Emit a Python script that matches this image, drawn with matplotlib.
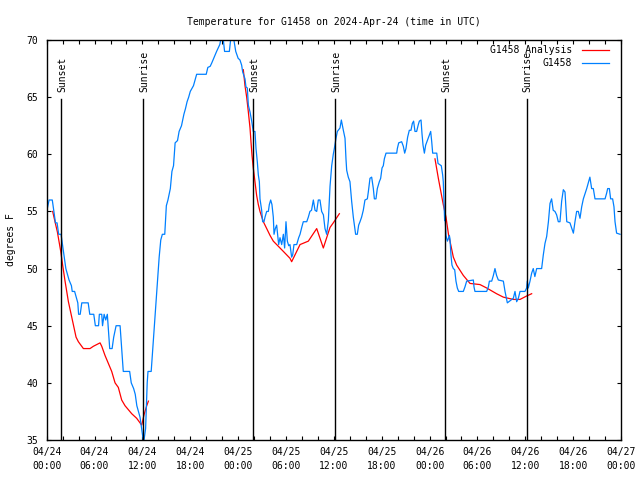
import matplotlib
matplotlib.use("Agg")
import matplotlib.pyplot as plt
from matplotlib.ticker import MultipleLocator, FixedLocator

# ---------------- data (hours since 2024-04-24 00:00 UTC) ----------------
obs_hours = [
    0.0, 0.3, 0.7, 0.9, 1.1, 1.3, 1.5, 1.8, 2.0, 2.2, 2.4, 2.6, 2.8, 3.1, 3.2, 3.5,
    3.7, 3.9, 4.0, 4.2, 4.4, 5.2, 5.4, 5.9, 6.1, 6.5, 6.6, 6.9, 7.0, 7.2, 7.4, 7.6,
    7.7, 7.9, 8.2, 8.4, 8.7, 9.2, 9.4, 9.6, 10.4, 10.6, 10.9, 11.1, 11.3, 11.5, 11.7,
    11.9, 12.1, 12.2, 12.4, 12.5, 12.6, 12.7, 13.1, 13.3, 13.5, 13.7, 13.9, 14.1,
    14.3, 14.5, 14.8, 15.0, 15.2, 15.5, 15.7, 15.9, 16.1, 16.4, 16.6, 16.9, 17.2,
    17.4, 17.6, 17.8, 18.0, 18.4, 18.6, 18.8, 20.0, 20.2, 20.5, 20.7, 21.0, 21.3,
    21.7, 21.9, 22.1, 22.3, 22.9, 23.1, 23.4, 23.7, 24.0,
    24.23, 24.44, 24.57, 24.86, 24.98, 25.15, 25.28, 25.49, 25.7, 25.9, 26.11, 26.24,
    26.41, 26.53, 26.66, 26.74, 26.95, 27.07, 27.24, 27.37, 27.58, 27.79, 27.91,
    28.08, 28.24, 28.41, 28.5, 28.66, 28.83, 28.95, 29.08, 29.25, 29.46, 29.67,
    29.83, 30.0, 30.17, 30.34, 30.5, 30.71, 30.84, 31.0, 31.34, 31.59, 31.76, 32.01,
    32.17, 32.6, 32.8, 33.0, 33.2, 33.43, 33.64, 33.85, 34.05, 34.26, 34.47, 34.69,
    34.89, 35.1, 35.31, 35.43, 35.52, 35.73, 35.93, 36.06, 36.27, 36.44, 36.77,
    36.94, 37.19, 37.4, 37.52, 37.61, 37.81, 38.02, 38.23, 38.44, 38.57, 38.73,
    38.94, 39.11, 39.28, 39.48, 39.69, 39.9, 40.2, 40.32, 40.53, 40.74, 40.95,
    41.08, 41.28, 41.45, 41.7, 41.87, 42.04, 42.2, 42.33, 42.54, 43.88, 43.96,
    44.13, 44.5, 44.71, 44.88, 45.04, 45.25, 45.46, 45.67, 45.84, 46.0, 46.17,
    46.38, 46.59, 46.72, 46.93, 47.05, 47.18, 47.35, 47.51, 47.72, 47.98, 48.14,
    48.27, 48.39, 48.9, 49.06, 49.47, 49.64, 49.72, 49.89, 49.97, 50.06, 50.23,
    50.35, 50.48, 50.56, 50.68, 50.81, 50.98, 51.15, 51.31, 51.48, 51.65, 52.23,
    52.44, 52.65, 53.49, 53.57, 53.69, 55.16, 55.37, 55.5, 55.79, 56.0, 56.2, 56.4,
    56.62, 57.25, 57.46, 57.75, 58.5, 58.71, 58.92, 59.13, 59.34, 59.96, 60.17,
    60.25, 60.38, 60.59, 60.8, 61.0, 61.2, 61.43, 62.05, 62.26, 62.47, 62.68, 62.9,
    63.1, 63.3, 63.5, 63.72, 63.93, 64.14, 64.35, 64.56, 64.77, 64.98, 65.2, 65.6,
    66.03, 66.23, 66.44, 66.65, 66.86, 67.07, 67.28, 67.7, 68.1, 68.32, 68.53,
    68.74, 70.0, 70.2, 70.33, 70.54, 70.7, 70.95, 71.12, 71.25, 71.45, 71.88,
]
obs_temps = [
    55, 56, 56, 55, 54, 54, 53, 53, 52, 51, 50, 49.5, 49, 48.5, 48, 48,
    47.5, 47, 46, 46, 47, 47, 46, 46, 45, 45, 46, 46, 45, 46, 45.5, 46,
    45, 43, 43, 44, 45, 45, 43, 41, 41, 40, 39.5, 39, 38, 37.5, 37,
    36, 35, 35, 36, 38, 40, 41, 41, 43, 45, 47, 49, 51,
    52.5, 53, 53, 55.5, 56, 57, 58.5, 59, 61, 61.2, 62, 62.5, 63.5,
    64, 64.6, 65, 65.5, 66, 66.5, 67, 67, 67.6, 67.7, 68, 68.5, 69,
    69.6, 70.3, 70.3, 69, 69, 70.3, 70.3, 69, 68.4,
    68.25, 67.8, 67.2, 66.6, 65.9, 65.8, 64.3, 63.7, 62.9, 62, 62, 60.5,
    59.3, 58.2, 57.6, 56.1, 55.1, 54.1, 54.1, 54.5, 55, 55, 55.6,
    56, 55.6, 54.5, 53, 53.5, 53.8, 53, 52.1, 52.7, 52.1, 53,
    51.8, 54.1, 52.4, 52, 52.1, 51, 51.2, 52.1, 52.1, 52.7, 53, 53.7,
    54.1, 54.1, 54.5, 55, 55.1, 56, 55.1, 55, 56, 56, 55, 54.7,
    53.5, 53, 54.2, 56, 57.2, 59, 60, 60.5, 61.4, 62, 62.3,
    63, 62.1, 61.4, 59.6, 58.6, 58, 57.6, 55.9, 54.5, 53.8, 53,
    53, 53.8, 54.1, 54.5, 55.1, 56, 56.1, 56.7, 57.9, 58, 57,
    56.1, 56.1, 57, 57.6, 57.9, 58.8, 59, 59.6, 60.1, 60.1, 60.5,
    61, 61.1, 60.7, 60.1, 60.5, 61.5, 62.1, 62.1, 62.7, 62.9, 62,
    62, 62.6, 62.9, 63, 61.8, 60.8, 60.1, 60.8, 61.2, 61.7, 62,
    61.1, 60.1, 60.1, 59.2, 59, 58.2, 57.6, 54.2, 54.2, 52.9, 52.4,
    52.6, 52.9, 52.6, 51.2, 50.3, 50.0, 49.9, 48.9, 48.3, 48, 48,
    48.4, 48.9, 49, 48.4, 48, 48, 48.4, 48.9, 48.9, 49.4, 50, 49.4,
    49, 48.9, 48, 47, 47.4, 48, 47.1, 47.4, 48, 48, 48.3,
    48.9, 48.3, 48.9, 49.6, 50, 49.3, 50, 50, 51.2, 52.2, 52.8, 54.1,
    55.7, 56.1, 55.1, 55, 54.7, 54.1, 54.1, 55.9, 56.9, 56.7, 54.1, 54,
    53.1, 54.1, 55, 55, 54.4, 55.4, 56.1, 57, 58, 57, 57,
    56.1, 56.1, 56.6, 57, 57, 56.1, 56.1, 55.4, 54.1, 53.1, 53,
]

ana1_hours = [0.75, 1.04, 1.34, 1.76, 2.0, 2.3, 2.72, 3.0, 3.34, 3.68, 3.97, 4.6,
              5.43, 5.85, 6.69, 6.9, 7.31, 8.15, 8.57, 8.98, 9.4, 9.82, 10.66,
              11.28, 11.91, 12.2, 12.54, 12.75]
ana1_temps = [55, 54.1, 53.2, 51.5, 50.3, 48.9, 47.1, 46.2, 45.1, 44, 43.6, 43,
              43, 43.2, 43.5, 43.2, 42.4, 41, 40, 39.6, 38.5, 38, 37.3,
              36.9, 36.3, 37.2, 38, 38.4]
ana2_hours = [24.65, 24.86, 25.07, 25.28, 25.49, 25.61, 25.74, 25.9, 26.11, 26.32,
              26.53, 26.74, 27.16, 27.58, 28.0, 28.41, 28.83, 29.67, 30.5, 30.71,
              31.34, 31.76, 32.8, 33.85, 34.68, 35.52, 35.93, 36.69]
ana2_temps = [67.4, 66, 65, 63.7, 62.3, 61.1, 59.9, 58.8, 57.6, 56.4,
              55.6, 55, 54.1, 53.5, 52.9, 52.4, 52.1, 51.5, 50.9, 50.6,
              51.5, 52.1, 52.4, 53.5, 51.8, 53.6, 54, 54.8]
ana3_hours = [48.68, 49.1, 49.72, 50.06, 50.39, 50.56, 50.98, 51.4, 52.23, 53.07,
              54.32, 55.16, 56.4, 57.25, 58.5, 59.34, 60.17, 60.8]
ana3_temps = [59.6, 57.9, 55.6, 54.5, 52.9, 52.4, 51, 50.3, 49.4, 48.7,
              48.6, 48.3, 47.8, 47.5, 47.3, 47.3, 47.6, 47.8]

sunset_hours = [1.85, 25.9, 49.95]
sunrise_hours = [12.12, 36.2, 60.18]

xtick_hours = [0, 6, 12, 18, 24, 30, 36, 42, 48, 54, 60, 66, 72]
xtick_labels = ["04/24\n00:00", "04/24\n06:00", "04/24\n12:00", "04/24\n18:00",
                "04/25\n00:00", "04/25\n06:00", "04/25\n12:00", "04/25\n18:00",
                "04/26\n00:00", "04/26\n06:00", "04/26\n12:00", "04/26\n18:00",
                "04/27\n00:00"]
ytick_values = [35, 40, 45, 50, 55, 60, 65, 70]

title = "Temperature for G1458 on 2024-Apr-24 (time in UTC)"

# ---------------- plot ----------------
plt.rcParams['font.family'] = ['DejaVu Sans Mono']
FS = 7

fig = plt.figure(figsize=(6.4, 4.8), dpi=100)
ax = fig.add_axes([46.7 / 640, 40 / 480, (621 - 46.7) / 640, 400 / 480])

red = '#ff0000'
blue = '#0080ff'
lw = 0.9

ax.plot(ana1_hours, ana1_temps, color=red, lw=lw, label='G1458 Analysis')
ax.plot(ana2_hours, ana2_temps, color=red, lw=lw)
ax.plot(ana3_hours, ana3_temps, color=red, lw=lw)
ax.plot(obs_hours, obs_temps, color=blue, lw=lw, label='G1458')

for h in sunset_hours:
    ax.plot([h, h], [35, 64.85], color='black', lw=1.0)
    ax.text(h + 0.1, 65.45, 'Sunset', rotation=90, ha='center', va='bottom', fontsize=FS)
for h in sunrise_hours:
    ax.plot([h, h], [35, 64.85], color='black', lw=1.0)
    ax.text(h + 0.1, 65.45, 'Sunrise', rotation=90, ha='center', va='bottom', fontsize=FS)

ax.set_xlim(0, 72)
ax.set_ylim(35, 70)
ax.xaxis.set_major_locator(FixedLocator(xtick_hours))
ax.set_xticklabels(xtick_labels, fontsize=FS, linespacing=1.45)
ax.xaxis.set_minor_locator(MultipleLocator(2))
ax.yaxis.set_major_locator(FixedLocator(ytick_values))
ax.set_yticklabels([str(v) for v in ytick_values], fontsize=FS)
ax.tick_params(which='both', direction='in', top=True, right=True, length=3, width=0.8,
               color='black')
ax.tick_params(axis='x', which='major', pad=5)
ax.tick_params(axis='y', which='major', pad=6)
for s in ax.spines.values():
    s.set_linewidth(1.0)

ax.set_ylabel('degrees F', fontsize=FS, labelpad=8)
ax.set_title(title, fontsize=FS, pad=11)

leg = ax.legend(loc='upper right', frameon=False, fontsize=FS, markerfirst=False,
                handlelength=2.8, handletextpad=1.0, labelspacing=0.35,
                borderaxespad=0.0, borderpad=0.2, bbox_to_anchor=(0.983, 0.9925))

fig.savefig('out.png', dpi=100)
